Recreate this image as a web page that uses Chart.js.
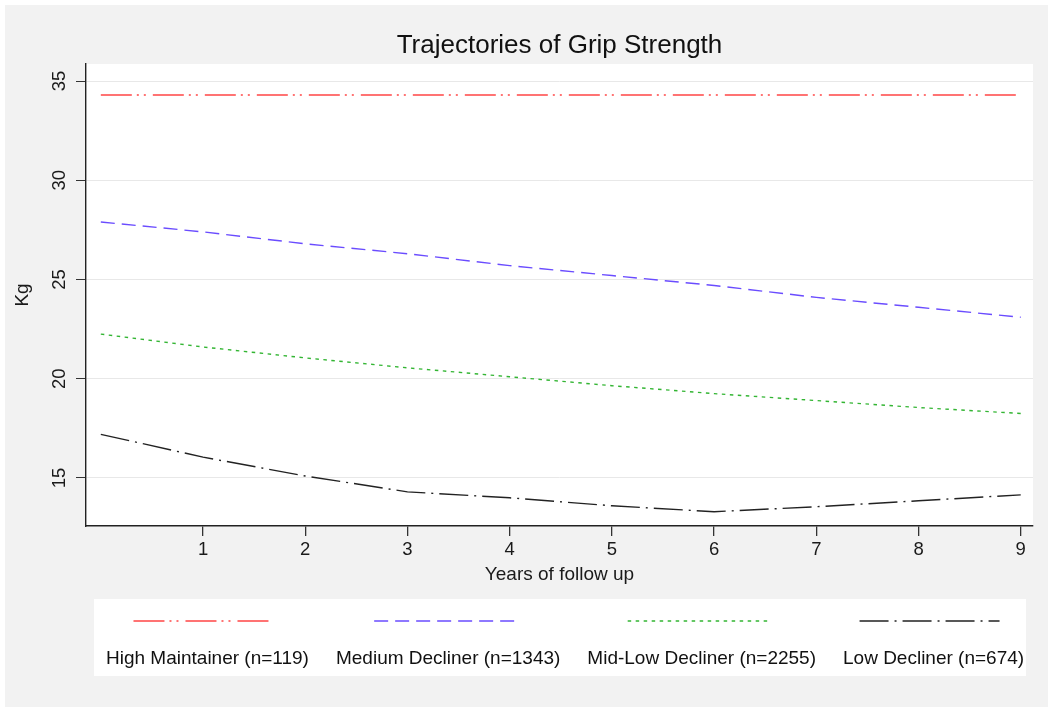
<!DOCTYPE html>
<html>
<head>
<meta charset="utf-8">
<script src="https://cdn.jsdelivr.net/npm/chart.js@4"></script>
<style>
  html,body{margin:0;padding:0;background:#fff;}
  #wrap{width:1048px;height:707px;}
</style>
</head>
<body>
<div id="wrap"><canvas id="grip" width="1048" height="707"></canvas></div>
<script>
// --------- DATA ----------
const years = [0,1,2,3,4,5,6,7,8,9];
const xTicks = [1,2,3,4,5,6,7,8,9];
const yTicks = [15,20,25,30,35];

const highMaintainer = [34.3,34.3,34.3,34.3,34.3,34.3,34.3,34.3,34.3,34.3];
const mediumDecliner = [27.9,27.4,26.8,26.3,25.7,25.2,24.7,24.1,23.6,23.1];
const midLowDecliner = [22.25,21.6,21.05,20.55,20.1,19.65,19.25,18.9,18.55,18.25];
const lowDecliner    = [17.2,16.05,15.1,14.3,14.0,13.6,13.3,13.55,13.85,14.15];

const seriesNames = ['High Maintainer (n=119)','Medium Decliner (n=1343)','Mid-Low Decliner (n=2255)','Low Decliner (n=674)'];

// --------- HELPERS ----------
const FONT = '"Liberation Sans", Arial, sans-serif';
const pts = arr => years.map((x,i)=>({x:x, y:arr[i]}));

function mkSet(label, arr, color, dash){
  return {label, data:pts(arr), borderColor:color, borderWidth:1.4, borderDash:dash,
          pointRadius:0, tension:0, fill:false};
}

// background panels + title + stata-like legend
const decor = {
  id:'decor',
  beforeDraw(chart){
    const {ctx, chartArea:a} = chart;
    ctx.save();
    ctx.fillStyle = '#fff'; ctx.fillRect(0,0,chart.width,chart.height);
    ctx.fillStyle = '#f2f2f2'; ctx.fillRect(5,5,chart.width-5,chart.height-5);
    ctx.fillStyle = '#fff'; ctx.fillRect(a.left,a.top,a.right-a.left,a.bottom-a.top);
    ctx.restore();
  },
  afterDraw(chart){
    const {ctx, chartArea:a} = chart;
    ctx.save();
    ctx.fillStyle = '#111';
    ctx.font = '26px ' + FONT;
    ctx.textAlign = 'center'; ctx.textBaseline = 'middle';
    ctx.fillText('Trajectories of Grip Strength', (a.left+a.right)/2, 46);

    // legend box
    const boxTop = 599, boxBottom = 676;
    ctx.fillStyle = '#fff';
    ctx.fillRect(94, boxTop, 1026-94, boxBottom-boxTop);
    ctx.font = '19px ' + FONT;
    let x = 106;
    chart.data.datasets.forEach(ds=>{
      const w = ctx.measureText(ds.label).width;
      const cx = x + w/2;
      ctx.beginPath();
      ctx.setLineDash(ds.borderDash);
      ctx.strokeStyle = ds.borderColor; ctx.lineWidth = 1.6;
      ctx.moveTo(cx-4-70, 621); ctx.lineTo(cx-4+70, 621);
      ctx.stroke();
      ctx.setLineDash([]);
      ctx.fillStyle = '#111';
      ctx.fillText(ds.label, cx, 659);
      x += w + 27;
    });
    ctx.restore();
  }
};

// --------- CHART ----------
Chart.defaults.font.family = FONT;
Chart.defaults.color = '#1a1a1a';

new Chart(document.getElementById('grip'), {
  type:'line',
  data:{
    datasets:[
      mkSet(seriesNames[0], highMaintainer, '#ff4646', [31,5,2,5,2,7]),
      mkSet(seriesNames[1], mediumDecliner, '#6a4cff', [14,7]),
      mkSet(seriesNames[2], midLowDecliner, '#33b533', [3.5,4.5]),
      mkSet(seriesNames[3], lowDecliner, '#222222', [29,6,2,6])
    ]
  },
  options:{
    responsive:false,
    maintainAspectRatio:false,
    animation:false,
    layout:{padding:{left:5, top:64, right:15, bottom:121}},
    plugins:{legend:{display:false}, title:{display:false}, tooltip:{enabled:false}},
    scales:{
      x:{
        type:'linear', min:-0.145, max:9.12,
        afterBuildTicks: s => { s.ticks = xTicks.map(v=>({value:v})); },
        afterFit: s => { s.height = 60; },
        grid:{drawOnChartArea:false, drawTicks:true, tickLength:10, tickColor:'#333', lineWidth:1.3},
        border:{color:'#222', width:1.4},
        ticks:{font:{size:18.5}, padding:3, maxRotation:0, color:'#1a1a1a'},
        title:{display:true, text:'Years of follow up', font:{size:19}, padding:{top:1.6, bottom:0}, color:'#1a1a1a'}
      },
      y:{
        min:12.58, max:35.86,
        afterBuildTicks: s => { s.ticks = yTicks.map(v=>({value:v})); },
        afterFit: s => { s.width = 81; },
        grid:{color:'#e8e8e8', lineWidth:1, drawTicks:true, tickLength:10, tickColor:'#333'},
        border:{color:'#222', width:1.4},
        ticks:{font:{size:18.5}, padding:5.7, minRotation:90, maxRotation:90, crossAlign:'center', color:'#1a1a1a'},
        title:{display:true, text:'Kg', font:{size:19}, padding:{top:6.5, bottom:0}, color:'#1a1a1a'}
      }
    }
  },
  plugins:[decor]
});
</script>
</body>
</html>
